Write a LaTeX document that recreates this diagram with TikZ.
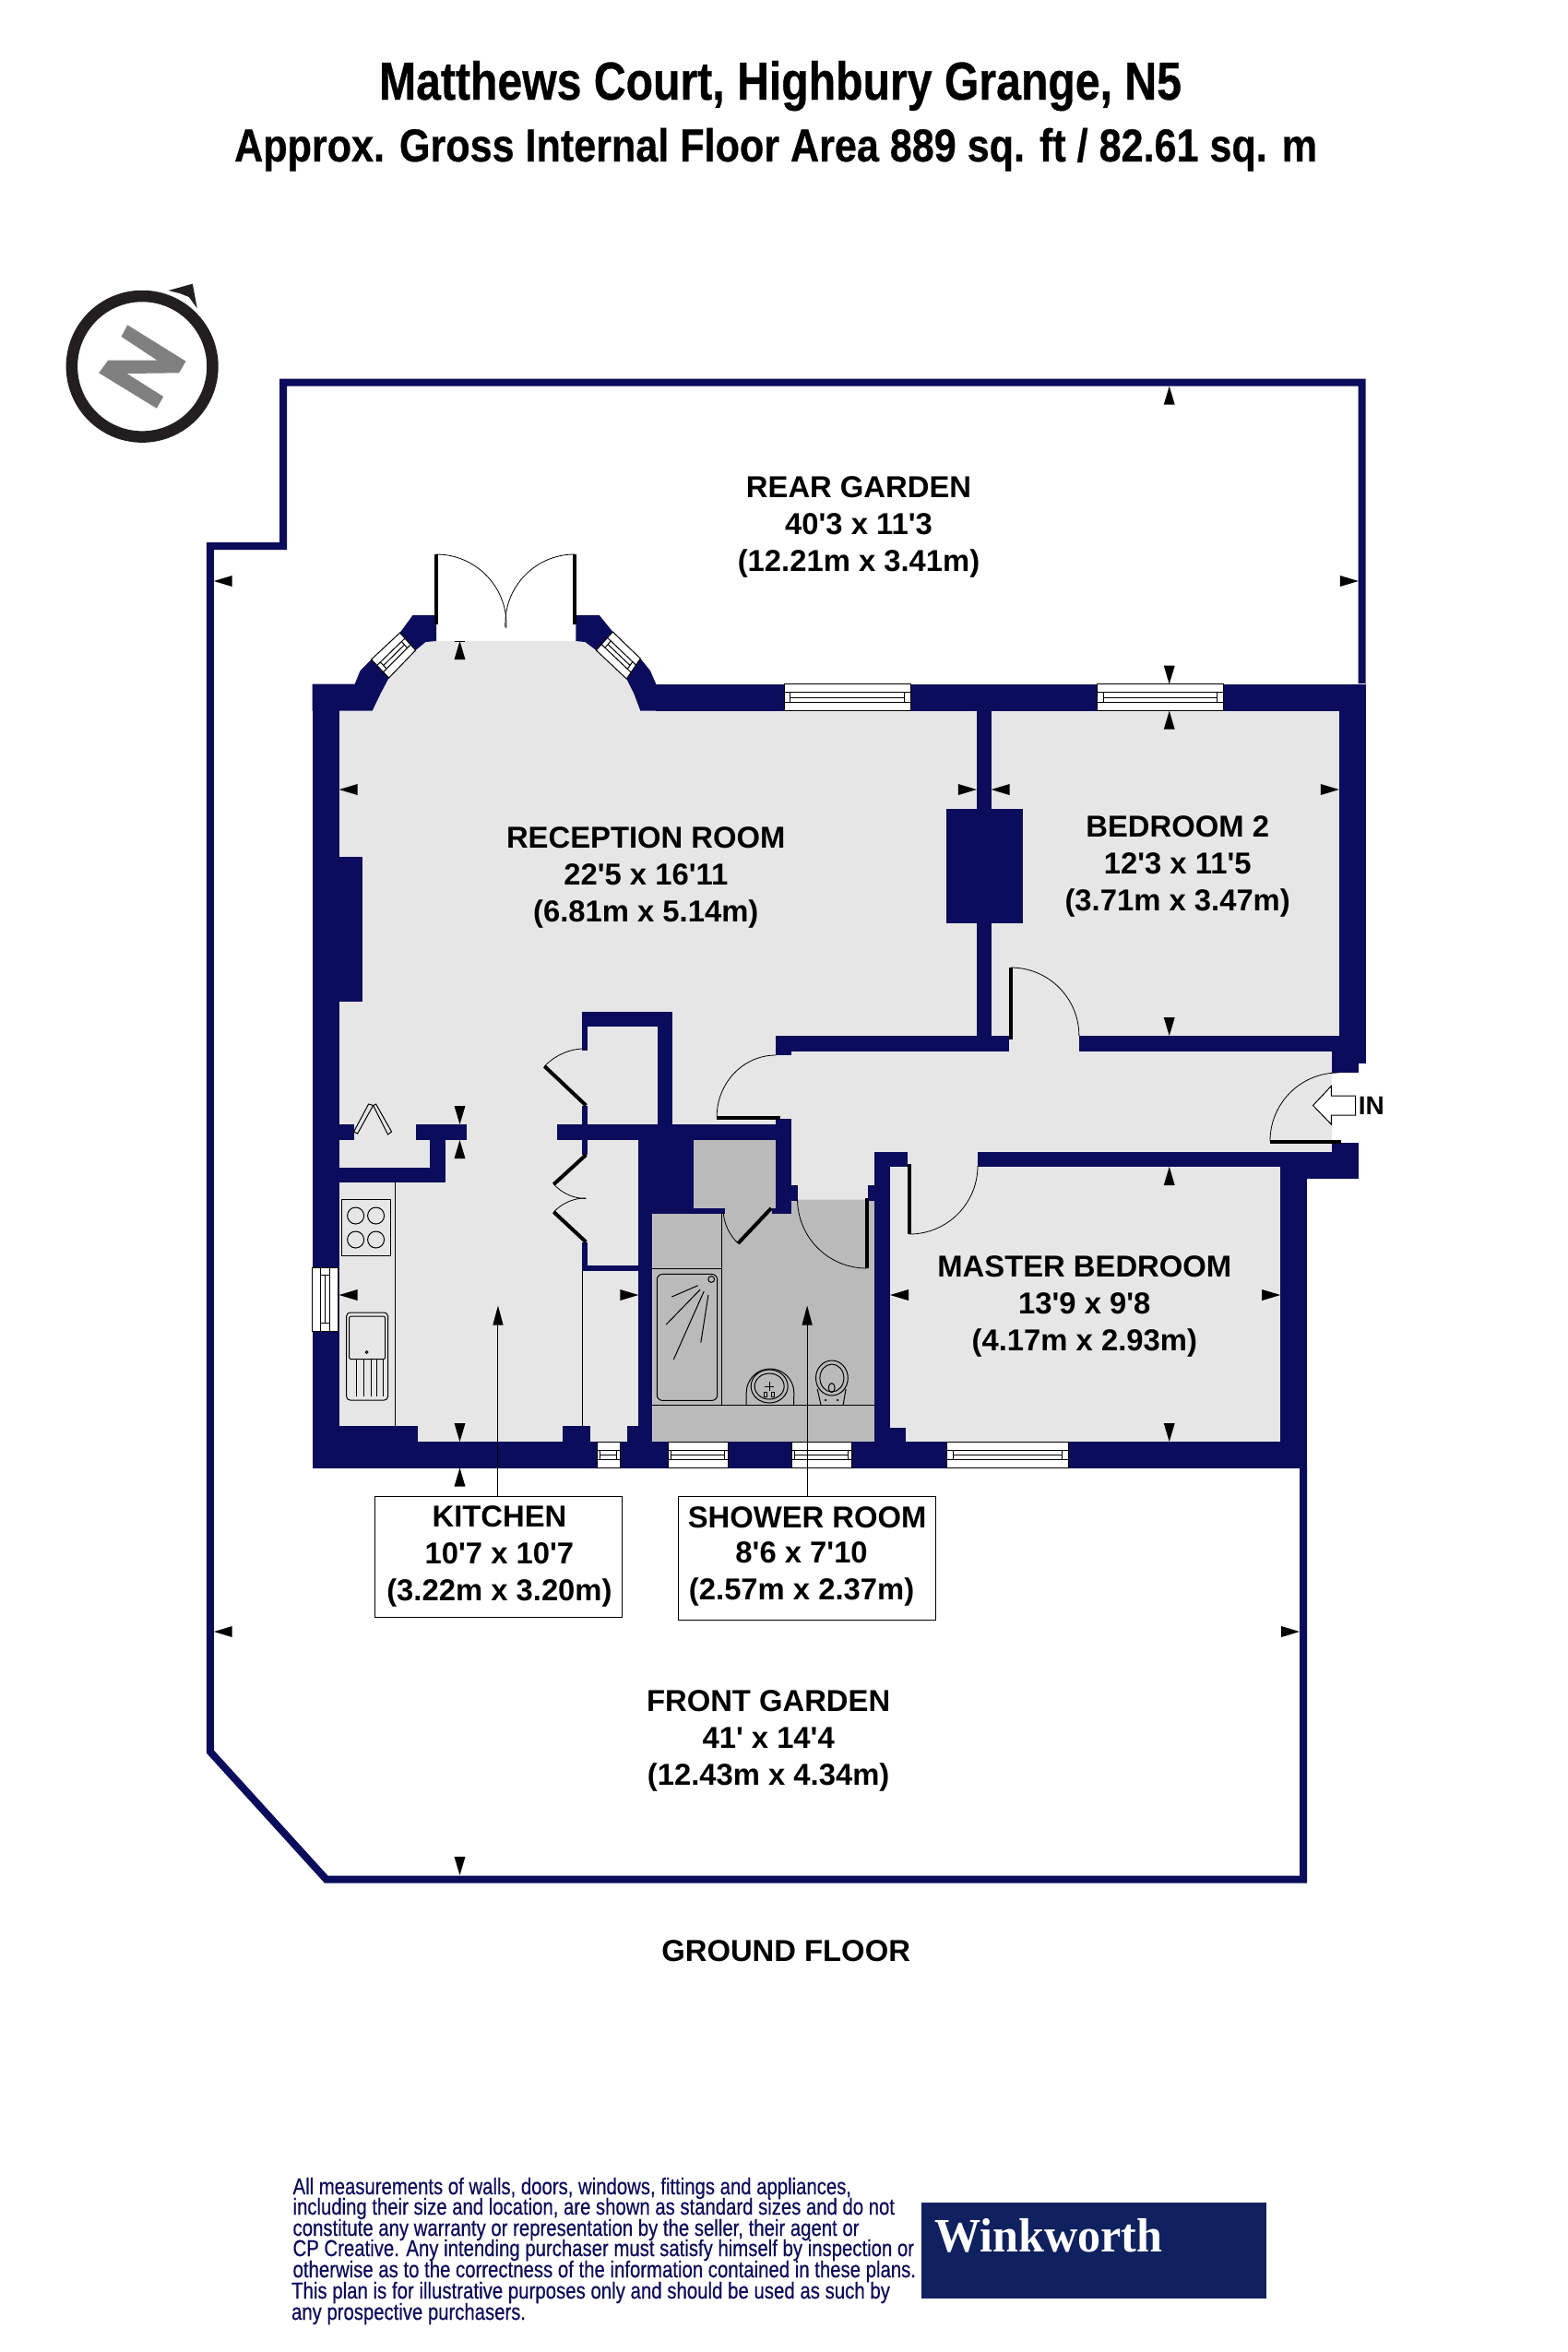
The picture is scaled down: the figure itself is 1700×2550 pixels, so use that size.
\documentclass[tikz,border=0pt]{standalone}
\usepackage{graphicx}
\usepackage{fontspec}
\usetikzlibrary{calc,arrows.meta}
\newfontfamily\labfont{Liberation Sans}
\newfontfamily\finefont{Liberation Sans}[FakeBold=0.5]
\newfontfamily\titlefont{Liberation Sans Bold}[FakeBold=0.6]
\newfontfamily\logofont{Liberation Serif}
\definecolor{navy}{HTML}{0C0C5C}
\definecolor{floorlight}{HTML}{E6E6E6}
\definecolor{floordark}{HTML}{BABABA}
\definecolor{compassdark}{HTML}{231F20}
\definecolor{compassgrey}{HTML}{808080}
\definecolor{logoblue}{HTML}{10215F}
\tikzset{
  wall/.style={fill=navy},
  fine/.style={draw=black,line width=.5pt},
  leaf/.style={draw=black,line width=2pt},
  swing/.style={draw=black,line width=.4pt},
  fence/.style={draw=navy,line width=4pt,miter limit=10},
  roomlabel/.style={align=center,inner sep=0pt,font=\labfont\bfseries\fontsize{16.4}{20}\selectfont},
  boxlabel/.style={draw=black,line width=.5pt,fill=white,inner sep=0pt},
  leader/.style={draw=black,line width=.5pt,-{Triangle[length=10.5pt,width=5.5pt]}},
  finetext/.style={anchor=base west,inner sep=0pt,text=navy,font=\finefont\fontsize{12.5}{12.5}\selectfont},
}
\newcommand\dimL[2]{\fill[black] (#1,#2) -- ++(20,-6) -- ++(0,12) -- cycle;}
\newcommand\dimR[2]{\fill[black] (#1,#2) -- ++(-20,-6) -- ++(0,12) -- cycle;}
\newcommand\dimU[2]{\fill[black] (#1,#2) -- ++(-6,20) -- ++(12,0) -- cycle;}
\newcommand\dimD[2]{\fill[black] (#1,#2) -- ++(-6,-20) -- ++(12,0) -- cycle;}
\newcommand\win[5][.05]{%
  \coordinate (wa) at #2; \coordinate (wb) at #3; \coordinate (wc) at #4; \coordinate (wd) at #5;
  \draw[fine,fill=white] (wa)--(wb)--(wc)--(wd)--cycle;
  \draw[fine] ($(wa)!.32!(wd)$)--($(wb)!.32!(wc)$);
  \draw[fine] ($(wa)!.68!(wd)$)--($(wb)!.68!(wc)$);
  \draw[fine] ($($(wa)!.5!(wd)$)!#1!($(wb)!.5!(wc)$)$)--($($(wa)!.5!(wd)$)!1-#1!($(wb)!.5!(wc)$)$);
  \draw[fine] ($($(wa)!.32!(wd)$)!#1!($(wb)!.32!(wc)$)$)--($($(wa)!.68!(wd)$)!#1!($(wb)!.68!(wc)$)$);
  \draw[fine] ($($(wa)!.32!(wd)$)!1-#1!($(wb)!.32!(wc)$)$)--($($(wa)!.68!(wd)$)!1-#1!($(wb)!.68!(wc)$)$);
}
\begin{document}
\begin{tikzpicture}[x=.4995pt,y=-.5pt]
\useasboundingbox (0,0) rectangle (1701.7,2550);
\fill[white] (0,0) rectangle (1701.7,2550);

% titles
\node[anchor=base west,inner sep=0pt] (title1) at (411,108) {\resizebox{435pt}{\height}{\titlefont\fontsize{29}{29}\selectfont Matthews Court, Highbury Grange, N5}};
\node[anchor=base west,inner sep=0pt] (title2) at (254,175) {\resizebox{587pt}{\height}{\titlefont\fontsize{25}{25}\selectfont Approx. Gross Internal Floor Area 889 sq. ft / 82.61 sq. m}};

% compass
\draw[compassdark,line width=6.25pt] (154.3,397.3) circle[radius=38.15pt];
\fill[compassdark] (182.7,315) -- (209,307.7) -- (214,334.3) -- (205,322) -- (195,318) -- cycle;
\fill[compassgrey] (138.3,352.3) -- (201.7,391.7) -- (194.3,404.3) -- (137.7,405) -- (177.3,430) -- (170,442.7) -- (107.3,404.3) -- (117.3,390.7) -- (170.7,390.7) -- (131.7,365) -- cycle;

% boundary fence
\draw[fence] (1478,741) -- (1478,414.5) -- (307.5,414.5) -- (307.5,592) -- (228,592) -- (228,1899) -- (354,2037.5) -- (1414.5,2037.5) -- (1414.5,1590);

% floors
\fill[floorlight] (368,771) -- (404,771) -- (413,752) -- (422,735) -- (451,705) -- (462,696) -- (473.5,695) -- (625,695) -- (635,696) -- (647,705) -- (680,736) -- (688,752) -- (695,771) -- (1453.3,771) -- (1453.3,1140) -- (1445.6,1140) -- (1445.6,1249) -- (1390,1249) -- (1390,1563) -- (368,1563) -- cycle;
\fill[floordark] (708,1310) -- (859,1310) -- (859,1302) -- (865.5,1300.7) -- (949,1300.7) -- (949,1563) -- (708,1563) -- cycle;
\fill[floordark] (753,1236) rectangle (842,1316);

% walls
\foreach \xa/\ya/\xb/\yb in {
  339/741.7/368/1591.5, 368/929/393/1086,
  712/741.7/851/770.7, 988/741.7/1191/770.7, 1327.7/741.7/1482/770.7,
  1453.3/741.7/1482/1152.5, 1445.6/1122.7/1474.7/1163,
  1060/770/1075.7/1140, 1027/876.7/1110/1000.7,
  842/1123/1095/1140, 1170.7/1122.7/1453.3/1140, 842/1123/859/1144,
  842/1213/859/1316,
  368/1219/384/1236, 451/1219/507/1236, 605/1219/859/1236,
  466/1236/483/1282, 368/1266/483/1282,
  632/1097/730/1113, 632/1097/638/1139, 714/1097/730/1219, 632/1198.5/638/1252,
  632/1346.6/638/1378, 632/1372/693/1378,
  693/1236/753/1316, 693/1236/708/1563, 753/1310/786.5/1316, 838/1310/859/1316,
  859/1285/865.5/1302, 942/1285/949/1302,
  949/1249/966/1563, 949/1249/985/1265, 949/1548/983/1563,
  1061/1249/1418.7/1265, 1389.6/1249/1418.7/1591.5,
  1445.6/1239.4/1474.7/1277.7, 1418.7/1249/1474.7/1277.7,
  339/1563/1418.7/1591.5,
  368/1546/453/1563, 611/1546/640.5/1563, 680.7/1546/693/1563}
  {\fill[wall] (\xa,\ya) rectangle (\xb,\yb);}
\fill[wall] (339,741.7) -- (385,741.7) -- (391,727) -- (403,715) -- (422,735) -- (413,752) -- (404,770.7) -- (339,770.7) -- cycle;
\fill[wall] (434,686) -- (448,667) -- (473.5,667) -- (473.5,695) -- (462,696) -- (451,705) -- cycle;
\fill[wall] (625,667) -- (650.5,667) -- (665,685) -- (647,705) -- (635,696) -- (625,695) -- cycle;
\fill[wall] (695,714) -- (705.6,727) -- (712,741.7) -- (712,770.7) -- (695,770.7) -- (688,752) -- (680,736) -- cycle;

% windows
\win{(851,741.7)}{(988,741.7)}{(988,770.7)}{(851,770.7)}
\win{(1191,741.7)}{(1327.7,741.7)}{(1327.7,770.7)}{(1191,770.7)}
\win[.12]{(403,715)}{(434,686)}{(451,705)}{(422,735)}
\win[.12]{(665,685)}{(695,714)}{(680,736)}{(647,705)}
\win[.12]{(339,1374)}{(339,1443)}{(367,1443)}{(367,1374)}
\win[.14]{(648,1563)}{(672.7,1563)}{(672.7,1591.5)}{(648,1591.5)}
\win{(725,1563)}{(790,1563)}{(790,1591.5)}{(725,1591.5)}
\win{(859,1563)}{(924,1563)}{(924,1591.5)}{(859,1591.5)}
\win{(1027.8,1563)}{(1159.3,1563)}{(1159.3,1591.5)}{(1027.8,1591.5)}

% door leaves
\draw[leaf] (473.5,601) -- (473.5,677);
\draw[leaf] (623.5,601) -- (623.5,677);
\draw[leaf] (778,1211.5) -- (847,1211.5);
\draw[leaf] (591,1156) -- (636,1198.5);
\draw[leaf] (636,1252) -- (601,1284);
\draw[leaf] (601,1314) -- (636,1346.6);
\draw[leaf] (837,1310) -- (801,1348);
\draw[leaf] (940.5,1299) -- (940.5,1375);
\draw[leaf] (987,1262) -- (987,1338);
\draw[leaf] (1097,1049) -- (1097,1126.7);
\draw[leaf] (1378.4,1237.5) -- (1455,1237.5);

% door swings
\draw[swing] (473.5,601) arc[start angle=90,end angle=0,radius=38pt] -- ++(0,4);
\draw[swing] (623.5,601) arc[start angle=90,end angle=180,radius=37.5pt] -- ++(0,4);
\draw[swing] (842,1144) arc[start angle=90,end angle=180,x radius=32pt,y radius=33.5pt];
\draw[swing] (591,1156) arc[start angle=136.6,end angle=88,radius=30.5pt];
\draw[swing] (601,1284) arc[start angle=222.4,end angle=270,radius=23.7pt];
\draw[swing] (601,1314) arc[start angle=137,end angle=90,radius=23.7pt];
\draw[swing] (801,1348) arc[start angle=226.5,end angle=184.5,radius=26pt];
\draw[swing] (940.5,1375) arc[start angle=270,end angle=180,radius=37.5pt];
\draw[swing] (987,1338) arc[start angle=270,end angle=360,radius=37pt];
\draw[swing] (1097,1049) arc[start angle=90,end angle=0,radius=37pt];
\draw[swing] (1378.4,1237) arc[start angle=180,end angle=90,radius=37pt];

% bifold door
\draw[fine] (384,1227) -- (400,1197) -- (405,1198.5) -- (388,1229) -- cycle;
\draw[fine] (405,1198.5) -- (408,1197) -- (425,1227) -- (421,1230) -- cycle;

% kitchen fittings
\draw[fine] (428.5,1282) -- (428.5,1546);
\draw[fine] (632.5,1378) -- (632.5,1546);
\draw[fine] (370.4,1300) rectangle (423.6,1361.5);
\foreach \cx/\cy in {386/1318,408/1318,386/1344,408/1344} {\draw[fine] (\cx,\cy) circle[radius=4.5pt];}
\draw[fine,rounded corners=2pt] (376,1423) rectangle (421,1518);
\draw[fine,rounded corners=1pt] (379,1427) rectangle (418,1473.6);
\draw[fine] (398,1466) circle[radius=.7pt];
\foreach \rx in {387,395,402.6,409,416} {\draw[fine] (\rx,1474) -- (\rx,1514);}

% shower room fittings
\draw[fine] (708,1375) -- (783,1375);
\draw[fine] (783,1316) -- (783,1523.4);
\draw[fine] (708,1523.4) -- (949,1523.4);
\draw[fine,rounded corners=3pt] (713,1381.4) rectangle (778.5,1518.4);
\draw[fine] (772,1387) circle[radius=1.7pt];
\draw[fine] (757.5,1393.7) -- (729,1406);
\draw[fine] (760,1398) -- (723,1436);
\draw[fine] (764,1400) -- (731,1474);
\draw[fine] (768.7,1404) -- (760.6,1455.7);
\draw[fine] (810,1523.4) -- (810,1510) arc[start angle=180,end angle=0,x radius=12.9pt,y radius=13pt] -- (861.5,1523.4);
\draw[fine] (835,1503) ellipse[x radius=10pt,y radius=9pt];
\draw[fine] (835,1503) ellipse[x radius=8pt,y radius=7pt];
\draw[fine] (835,1498) -- (835,1508) (830,1503) -- (840,1503);
\draw[fine] (829,1509) rectangle (832,1514);
\draw[fine] (837,1509) rectangle (840,1514);
\draw[fine] (902.8,1494) ellipse[x radius=8.7pt,y radius=9.5pt];
\draw[fine] (902.8,1494) ellipse[x radius=6.5pt,y radius=7.5pt];
\draw[fine] (902.6,1504.6) ellipse[x radius=1.7pt,y radius=2.5pt];
\draw[fine] (887,1506) -- (891,1523.4) (918,1506) -- (915,1523.4);
\fill[black] (896,1518) circle[radius=.6pt] (909,1518) circle[radius=.6pt];

% entrance arrow
\draw[fine,fill=white] (1425,1198.5) -- (1444.8,1177.4) -- (1444.8,1188) -- (1471,1188) -- (1471,1209) -- (1444.8,1209) -- (1444.8,1219) -- cycle;
\node[anchor=west,inner sep=0pt,font=\labfont\bfseries\fontsize{14}{14}\selectfont] (intext) at (1474,1198.5) {IN};

% dimension arrows
\dimL{232}{630}\dimL{368}{856}\dimL{1075.7}{856}\dimL{966}{1404}\dimL{368}{1404}\dimL{232}{1769}
\dimR{1474.3}{630}\dimR{1060}{856}\dimR{1453.3}{856}\dimR{693}{1404}\dimR{1389.6}{1404}\dimR{1410.4}{1769}
\dimU{1269}{418.7}\dimU{499}{695}\dimU{1269}{770.7}\dimU{1269}{1265}\dimU{499}{1236}\dimU{499}{1591.5}
\dimD{1269}{741.7}\dimD{1269}{1123}\dimD{499}{1219}\dimD{1269}{1563}\dimD{499}{1563}\dimD{499}{2033}
\draw[fine] (493,695) -- (505,695);

% room labels
\node[roomlabel] (rear) at (932,571) {REAR GARDEN\\40'3 x 11'3\\(12.21m x 3.41m)};
\node[roomlabel] (reception) at (701,951) {RECEPTION ROOM\\22'5 x 16'11\\(6.81m x 5.14m)};
\node[roomlabel] (bed2) at (1278,939.5) {BEDROOM 2\\12'3 x 11'5\\(3.71m x 3.47m)};
\node[roomlabel] (master) at (1177,1416) {MASTER BEDROOM\\13'9 x 9'8\\(4.17m x 2.93m)};
\node[roomlabel] (front) at (834,1887) {FRONT GARDEN\\41' x 14'4\\(12.43m x 4.34m)};
\node[roomlabel] (groundfloor) at (853,2115) {GROUND FLOOR};

% labelled boxes with leaders
\node[boxlabel,minimum width=133.6pt,minimum height=65.5pt] (kitbox) at (541,1687.8) {};
\node[boxlabel,minimum width=139.5pt,minimum height=66.8pt] (shbox) at (876,1689.2) {};
\node[roomlabel] (kittext) at (542,1687) {KITCHEN\\10'7 x 10'7\\(3.22m x 3.20m)};
\node[roomlabel] (shtext1) at (876,1645) {SHOWER ROOM};
\node[roomlabel] (shtext2) at (870,1706) {8'6 x 7'10\\(2.57m x 2.37m)};
\coordinate (kittip) at (540.5,1415.5);
\coordinate (shtip) at (876,1415.5);
\draw[leader] (kittip |- kitbox.north) -- (kittip);
\draw[leader] (shbox.north) -- (shtip);

% disclaimer
\node[finetext] (d1) at (317.5,2379) {\resizebox{302.75pt}{\height}{All measurements of walls, doors, windows, fittings and appliances,}};
\node[finetext] (d2) at (317.5,2401) {\resizebox{326.25pt}{\height}{including their size and location, are shown as standard sizes and do not}};
\node[finetext] (d3) at (317.5,2424) {\resizebox{307pt}{\height}{constitute any warranty or representation by the seller, their agent or}};
\node[finetext] (d4) at (317.5,2446) {\resizebox{336.75pt}{\height}{CP Creative. Any intending purchaser must satisfy himself by inspection or}};
\node[finetext] (d5) at (317.5,2469) {\resizebox{337.75pt}{\height}{otherwise as to the correctness of the information contained in these plans.}};
\node[finetext] (d6) at (316,2492) {\resizebox{324.5pt}{\height}{This plan is for illustrative purposes only and should be used as such by}};
\node[finetext] (d7) at (316,2515) {\resizebox{127pt}{\height}{any prospective purchasers.}};

% logo
\node[fill=logoblue,minimum width=186.85pt,minimum height=51.85pt,inner sep=0pt] (logobox) at (1186.85,2439.85) {};
\node[anchor=base west,inner sep=0pt,text=white] (logotext) at (1014,2441.7) {\resizebox{123.5pt}{\height}{\logofont\bfseries\fontsize{26}{26}\selectfont Winkworth}};
\end{tikzpicture}
\end{document}
